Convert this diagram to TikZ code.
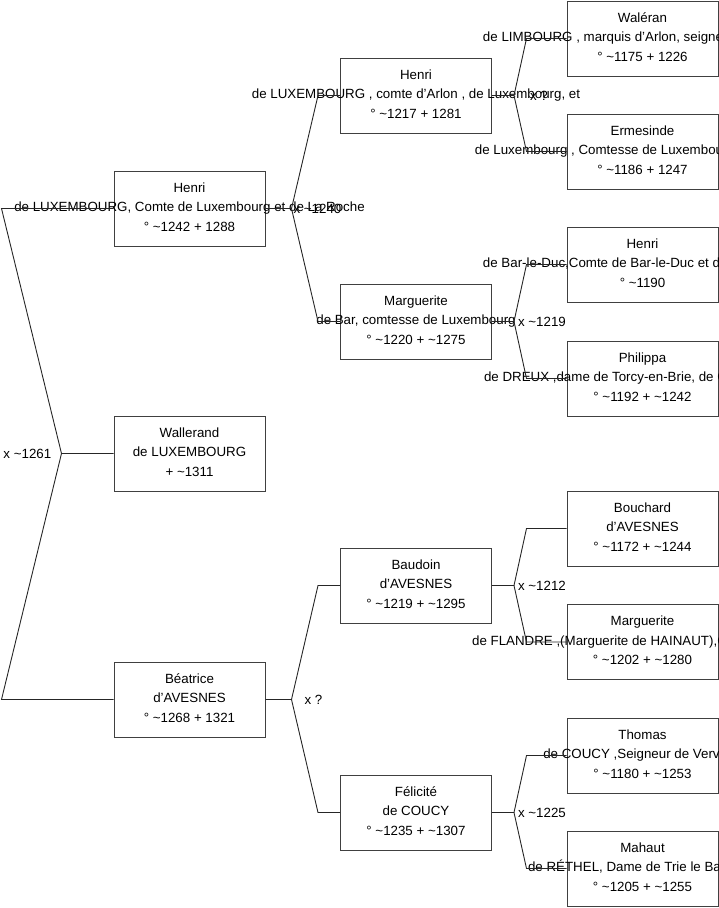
\documentclass[tikz,border=0pt]{standalone}
\usepackage{fontspec}
\setmainfont{Liberation Sans}
\newcommand\circa{\textasciitilde}
\tikzset{
  pbox/.style={draw=black!75, line width=1pt, minimum width=151pt, minimum height=75pt, inner sep=0pt},
  ptext/.style={align=center, inner sep=0pt, yshift=1.5pt, font=\fontsize{13.33}{19.5}\selectfont},
  mtext/.style={inner sep=0pt, font=\fontsize{13.33}{16}\selectfont},
  link/.style={draw=black!85, line width=0.9pt},
}
\begin{document}
\begin{tikzpicture}[x=1pt, y=-1pt]
  \def\xa{189.5}\def\xb{416}\def\xc{642.5}
  \useasboundingbox (0,0) rectangle (719,908);
  \clip (0,0) rectangle (719,908);
  \node[pbox] (hen1) at (\xa,208.5) {};
  \node[pbox] (wal)  at (\xa,453.5) {};
  \node[pbox] (bea)  at (\xa,699.5) {};
  \node[pbox] (hen2) at (\xb,95.5) {};
  \node[pbox] (marb) at (\xb,321.5) {};
  \node[pbox] (bau)  at (\xb,585.5) {};
  \node[pbox] (fel)  at (\xb,812.5) {};
  \node[pbox] (wale) at (\xc,38.5) {};
  \node[pbox] (erm)  at (\xc,151.5) {};
  \node[pbox] (hen3) at (\xc,264.5) {};
  \node[pbox] (phi)  at (\xc,378.5) {};
  \node[pbox] (bou)  at (\xc,528.5) {};
  \node[pbox] (marf) at (\xc,642) {};
  \node[pbox] (tho)  at (\xc,755.5) {};
  \node[pbox] (mah)  at (\xc,868.5) {};
  \node[ptext] (hen1t) at (hen1) {Henri\\de LUXEMBOURG, Comte de Luxembourg et de La Roche\\° \circa1242 + 1288};
  \node[ptext] (walt)  at (wal)  {Wallerand\\de LUXEMBOURG\\+ \circa1311};
  \node[ptext] (beat)  at (bea)  {Béatrice\\d'AVESNES\\° \circa1268 + 1321};
  \node[ptext] (hen2t) at (hen2) {Henri\\de LUXEMBOURG , comte d'Arlon , de Luxembourg, et\\° \circa1217 + 1281};
  \node[ptext] (marbt) at (marb) {Marguerite\\de Bar, comtesse de Luxembourg\\° \circa1220 + \circa1275};
  \node[ptext] (baut)  at (bau)  {Baudoin\\d'AVESNES\\° \circa1219 + \circa1295};
  \node[ptext] (felt)  at (fel)  {Félicité\\de COUCY\\° \circa1235 + \circa1307};
  \node[ptext] (walet) at (wale) {Waléran\\de LIMBOURG , marquis d'Arlon, seigne\kern79pt\\° \circa1175 + 1226};
  \node[ptext] (ermt)  at (erm)  {Ermesinde\\de Luxembourg , Comtesse de Luxembou\kern87pt\\° \circa1186 + 1247};
  \node[ptext] (hen3t) at (hen3) {Henri\\de Bar-le-Duc,Comte de Bar-le-Duc et d\kern82pt\\° \circa1190};
  \node[ptext] (phit)  at (phi)  {Philippa\\de DREUX ,dame de Torcy-en-Brie, de C\kern74pt\\° \circa1192 + \circa1242};
  \node[ptext] (bout)  at (bou)  {Bouchard\\d'AVESNES\\° \circa1172 + \circa1244};
  \node[ptext] (marft) at (marf) {Marguerite\\de FLANDRE ,(Marguerite de HAINAUT),C\kern86pt\\° \circa1202 + \circa1280};
  \node[ptext] (thot)  at (tho)  {Thomas\\de COUCY ,Seigneur de Verv\kern22pt\\° \circa1180 + \circa1253};
  \node[ptext] (maht)  at (mah)  {Mahaut\\de RÉTHEL, Dame de Trie le Ba\kern36pt\\° \circa1205 + \circa1255};
  \coordinate (m0) at ([xshift=-52]wal.west);
  \coordinate (m1) at ([xshift=26]hen1.east);
  \coordinate (m2) at ([xshift=26]bea.east);
  \coordinate (m3) at ([xshift=22]hen2.east);
  \coordinate (m4) at ([xshift=22]marb.east);
  \coordinate (m5) at ([xshift=22]bau.east);
  \coordinate (m6) at ([xshift=22]fel.east);
  \draw[link] (wal.west) -- (m0) -- ([xshift=-112]hen1.west) -- (hen1.west);
  \draw[link] (m0) -- ([xshift=-112]bea.west) -- (bea.west);
  \draw[link] (hen1.east) -- (m1) -- ([xshift=-22]hen2.west) -- (hen2.west);
  \draw[link] (m1) -- ([xshift=-22]marb.west) -- (marb.west);
  \draw[link] (bea.east) -- (m2) -- ([xshift=-22]bau.west) -- (bau.west);
  \draw[link] (m2) -- ([xshift=-22]fel.west) -- (fel.west);
  \draw[link] (hen2.east) -- (m3) -- ([xshift=-40]wale.west) -- (wale.west);
  \draw[link] (m3) -- ([xshift=-40]erm.west) -- (erm.west);
  \draw[link] (marb.east) -- (m4) -- ([xshift=-40]hen3.west) -- (hen3.west);
  \draw[link] (m4) -- ([xshift=-40]phi.west) -- (phi.west);
  \draw[link] (bau.east) -- (m5) -- ([xshift=-40]bou.west) -- (bou.west);
  \draw[link] (m5) -- ([xshift=-40]marf.west) -- (marf.west);
  \draw[link] (fel.east) -- (m6) -- ([xshift=-40]tho.west) -- (tho.west);
  \draw[link] (m6) -- ([xshift=-40]mah.west) -- (mah.west);
  \node[mtext, anchor=east] (l0) at ([xshift=-10]m0) {x \circa1261};
  \node[mtext] (l1) at ([xshift=26]m1) {x \circa1240};
  \node[mtext] (l2) at ([xshift=22]m2) {x ?};
  \node[mtext] (l3) at ([xshift=25]m3) {x ?};
  \node[mtext] (l4) at ([xshift=28]m4) {x \circa1219};
  \node[mtext] (l5) at ([xshift=28]m5) {x \circa1212};
  \node[mtext] (l6) at ([xshift=28]m6) {x \circa1225};
\end{tikzpicture}
\end{document}
